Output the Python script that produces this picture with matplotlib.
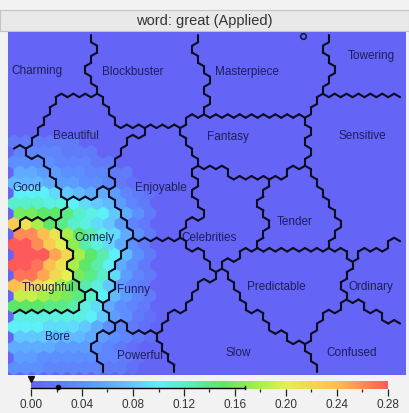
import numpy as np
import matplotlib.pyplot as plt
from matplotlib.path import Path
from matplotlib.collections import PolyCollection, LineCollection
from matplotlib.colors import LinearSegmentedColormap

plt.rcParams['font.family'] = ['Liberation Sans', 'DejaVu Sans']

W, H = 409, 414
MAP_L, MAP_R, MAP_T, MAP_B = 8, 406, 33, 376
NX, NY = 33, 33
VMAX = 0.28
BASE = 0  # hundredths, value of the flat blue cells

TITLE = "word: great (Applied)"

# cell values in hundredths, leading columns of each row (rest = BASE)
HEAT = {
    10: [2, 2, 2, 2, 2, 2],
    11: [3, 3, 3, 3, 2, 2, 2],
    12: [4, 4, 4, 4, 3, 3, 3, 2, 2],
    13: [6, 6, 5, 5, 4, 4, 3, 3, 2, 2],
    14: [7, 7, 7, 6, 5, 5, 4, 4, 3, 2, 1],
    15: [10, 10, 10, 9, 8, 7, 6, 6, 5, 3, 2, 1],
    16: [12, 12, 12, 11, 11, 10, 9, 8, 7, 5, 3, 2],
    17: [16, 16, 15, 15, 14, 12, 11, 10, 8, 6, 4, 2],
    18: [23, 21, 18, 15, 14, 12, 11, 9, 8, 5, 3, 2],
    19: [26, 26, 24, 21, 18, 15, 13, 11, 9, 6, 4, 2],
    20: [28, 28, 26, 23, 20, 17, 13, 11, 9, 6, 4, 2],
    21: [28, 28, 28, 25, 22, 18, 15, 13, 10, 7, 4, 2],
    22: [28, 28, 27, 24, 21, 18, 15, 13, 10, 6, 4, 2],
    23: [27, 27, 25, 22, 20, 16, 14, 12, 9, 5, 3, 2],
    24: [24, 23, 22, 20, 18, 15, 13, 11, 8, 5, 3, 2],
    25: [19, 19, 18, 17, 16, 14, 12, 10, 7, 5, 3, 2],
    26: [15, 15, 15, 14, 14, 13, 11, 9, 6, 4, 3, 2],
    27: [11, 11, 11, 11, 11, 11, 10, 8, 5, 4, 2, 1],
    28: [10, 10, 10, 9, 9, 9, 8, 6, 4, 3, 2, 1],
    29: [8, 8, 8, 7, 7, 7, 6, 5, 4, 3, 2, 1],
    30: [6, 6, 6, 6, 5, 5, 5, 4, 3, 2, 1],
    31: [5, 5, 4, 4, 4, 4, 4, 3, 3, 2, 1],
    32: [4, 4, 4, 3, 3, 3, 3, 3, 2, 2, 1],
}

LABELS = [("Charming", 37, 71), ("Blockbuster", 133, 72),
          ("Masterpiece", 247, 72), ("Towering", 371, 56),
          ("Beautiful", 76, 136), ("Fantasy", 228, 137),
          ("Sensitive", 362, 136), ("Good", 27, 188),
          ("Enjoyable", 161, 188), ("Celebrities", 209, 238),
          ("Tender", 295, 222), ("Comely", 94, 238),
          ("Thoughful", 48, 288), ("Funny", 134, 290),
          ("Predictable", 276, 287), ("Ordinary", 371, 287),
          ("Bore", 57, 337), ("Powerful", 140, 356),
          ("Slow", 238, 353), ("Confused", 352, 353)]

CBAR_TICKS = [0.00, 0.04, 0.08, 0.12, 0.16, 0.20, 0.24, 0.28]
CBAR_RANGE = (0.0, 0.168)
CBAR_MEAN = 0.021

# cluster borders, image pixel coords (y down)
X0, X1, Y0, Y1 = -30, 440, 0, 420
J1, J2, J3, J4, J5 = (97, 95), (27, 148), (200, 112), (305, 116), (323, 96)
J6, J7, J8, J9, J10 = (66, 198), (113, 192), (58, 216), (82, 297), (105, 302)
J11, J12, J13, J14, J15 = (115, 327), (132, 243), (180, 242), (267, 183), (303, 162)
J16, J17, J18, J19, J20 = (333, 247), (257, 247), (352, 265), (352, 300), (305, 348)
J21, J22, J23, J24, J25 = (218, 270), (160, 333), (200, 165), (182, 130), (143, 131)

EDGES = {
    "CB": [(85, Y0), (85, 33), (95, 50), (84, 68), J1],
    "CharBeau": [J1, (68, 97), (47, 111), (30, 135), J2],
    "CharGood": [J2, (8, 155), (X0, 155)],
    "GoodBeau": [J2, (37, 160), (55, 183), J6],
    "BeauCom": [J6, J7],
    "BeauEnj": [J7, (105, 172), (130, 145), J25],
    "BeauBlock": [J1, (117, 125), J25],
    "BlockEnj": [J25, J24],
    "BlockFan": [J24, J3],
    "BlockMas": [(200, Y0), (200, 33), (190, 53), (210, 90), J3],
    "MasFan": [J3, J4],
    "MasTow": [(332, Y0), (332, 33), (323, 55), (333, 75), J5],
    "TowSen": [J5, (409, 98), (X1, 98)],
    "MasSen": [J5, J4],
    "FanSen": [J4, (313, 135), J15],
    "EnjFan": [J24, (197, 150), J23],
    "FanCel": [J23, (220, 173), J14],
    "FanTen": [J14, J15],
    "TenSen": [J15, (313, 175), (330, 197), (343, 222), J16],
    "CelTen": [J14, (258, 200), (265, 223), J17],
    "TenPre": [J17, J16],
    "SenPre": [J16, J18],
    "SenOrd": [J18, (365, 250), (409, 243), (X1, 243)],
    "PreOrd": [J18, (343, 283), J19],
    "OrdCon": [J19, (373, 310), (409, 330), (X1, 330)],
    "PreCon": [J19, (333, 313), (317, 330), J20],
    "SloCon": [J20, (313, 376), (313, Y1)],
    "PreSlo": [J20, (287, 337), (267, 323), (240, 300), J21],
    "CelPre": [J21, (240, 253), J17],
    "CelFun": [J21, J13],
    "EnjCel": [J23, (190, 190), (202, 210), J13],
    "EnjFun": [J13, J12],
    "ComEnj": [J12, (128, 220), J7],
    "FunSlo": [J21, J22],
    "PowSlo": [J22, (167, 350), (182, 376), (182, Y1)],
    "FunPow": [J22, J11],
    "BorPow": [J11, (100, 337), (95, 352), (100, 362), (103, 376), (103, Y1)],
    "FunBor": [J11, J10],
    "ComFun": [J10, (113, 280), (120, 267), J12],
    "ComBor": [J10, (97, 295), J9],
    "ComTho": [J9, (70, 280), (72, 267), (67, 247), J8],
    "GoodCom": [J8, J6],
    "GoodTho": [J8, (48, 212), (38, 220), (8, 232), (X0, 232)],
    "ThoBor": [J9, (82, 307), (8, 312), (X0, 312)],
}

REGIONS = {
    "Charming": [(X0, Y0), "CB", "CharBeau", "CharGood"],
    "Blockbuster": ["BlockMas", "-BlockFan", "-BlockEnj", "-BeauBlock", "-CB"],
    "Masterpiece": ["MasTow", "MasSen", "-MasFan", "-BlockMas"],
    "Towering": [(X1, Y0), "-TowSen", "-MasTow"],
    "Beautiful": ["BeauBlock", "-BeauEnj", "-BeauCom", "-GoodBeau", "-CharBeau"],
    "Fantasy": ["MasFan", "FanSen", "-FanTen", "-FanCel", "-EnjFan", "BlockFan"],
    "Sensitive": ["TowSen", "-SenOrd", "-SenPre", "-TenSen", "-FanSen", "-MasSen"],
    "Good": ["-CharGood", "GoodBeau", "-GoodCom", "GoodTho"],
    "Enjoyable": ["BlockEnj", "EnjFan", "EnjCel", "EnjFun", "ComEnj", "BeauEnj"],
    "Celebrities": ["FanCel", "CelTen", "-CelPre", "CelFun", "-EnjCel"],
    "Tender": ["FanTen", "TenSen", "-TenPre", "-CelTen"],
    "Comely": ["BeauCom", "-ComEnj", "-ComFun", "ComBor", "ComTho", "GoodCom"],
    "Thoughful": ["-GoodTho", "-ComTho", "ThoBor"],
    "Funny": ["-EnjFun", "-CelFun", "FunSlo", "FunPow", "FunBor", "ComFun"],
    "Predictable": ["TenPre", "SenPre", "PreOrd", "PreCon", "PreSlo", "CelPre"],
    "Ordinary": ["SenOrd", "-OrdCon", "-PreOrd"],
    "Bore": ["-ThoBor", "-ComBor", "-FunBor", "BorPow", (X0, Y1)],
    "Powerful": ["-FunPow", "PowSlo", "-BorPow"],
    "Slow": ["-FunSlo", "-PreSlo", "SloCon", "-PowSlo"],
    "Confused": ["-PreCon", "OrdCon", (X1, Y1), "-SloCon"],
}

cmap = LinearSegmentedColormap.from_list("som", [
    (0.00, "#6464f6"), (0.04 / VMAX, "#5c90ff"), (0.08 / VMAX, "#62c8ff"),
    (0.10 / VMAX, "#5ef0f8"), (0.12 / VMAX, "#58f0c8"), (0.15 / VMAX, "#5ae868"),
    (0.18 / VMAX, "#a8f048"), (0.20 / VMAX, "#e4f050"), (0.24 / VMAX, "#ffc050"),
    (1.00, "#ff5a5a")])


def region_path(parts):
    pts = []
    for p in parts:
        if isinstance(p, str):
            seg = EDGES[p.lstrip("-")]
            pts.extend(seg[::-1] if p.startswith("-") else seg)
        else:
            pts.append(p)
    return Path(pts + [pts[0]])


paths = {k: region_path(v) for k, v in REGIONS.items()}
label_xy = {n: (x, y) for n, x, y in LABELS}

w = (MAP_R - MAP_L) / (NX + 0.5)
r = w / np.sqrt(3)
s = 1.5 * r


def center(i, j):
    return (MAP_L + w / 2 + i * w + (w / 2 if j % 2 else 0), MAP_T + r + j * s)


def vert(c, ang):
    a = np.radians(ang)
    return (c[0] + r * np.cos(a), c[1] + r * np.sin(a))


clus = {}
hexes, cols = [], []
for j in range(NY):
    row = HEAT.get(j, [])
    for i in range(NX):
        c = center(i, j)
        lab = None
        for k, p in paths.items():
            if p.contains_point(c):
                lab = k
                break
        if lab is None:
            lab = min(label_xy, key=lambda n: (label_xy[n][0] - c[0]) ** 2
                      + (label_xy[n][1] - c[1]) ** 2)
        clus[i, j] = lab
        v = (row[i] if i < len(row) else BASE) / 100
        hexes.append([vert(c, 30 + 60 * k) for k in range(6)])
        cols.append(cmap(v / VMAX))

segs = []
for j in range(NY):
    odd = j % 2
    for i in range(NX):
        c = center(i, j)
        for (ni, nj), a1, a2 in [((i + 1, j), -30, 30),
                                 ((i + odd, j + 1), 30, 90),
                                 ((i - 1 + odd, j + 1), 90, 150)]:
            if 0 <= ni < NX and 0 <= nj < NY and clus[ni, nj] != clus[i, j]:
                segs.append([vert(c, a1), vert(c, a2)])

fig = plt.figure(figsize=(W / 100, H / 100), dpi=100, facecolor="#f2f2f2")

# title bar
tax = fig.add_axes([0, (H - 32) / H, 1, 21 / H])
tax.set_facecolor("#e9e9e9")
tax.set_xticks([])
tax.set_yticks([])
for sp in tax.spines.values():
    sp.set_color("#c4c4c4")
tax.text(0.5, 0.5, TITLE, ha="center", va="center", fontsize=10.5,
         color="#333333", transform=tax.transAxes)

# map
ax = fig.add_axes([MAP_L / W, (H - MAP_B) / H, (MAP_R - MAP_L) / W,
                   (MAP_B - MAP_T) / H])
ax.set_facecolor(cmap(BASE / 100 / VMAX))
ax.set_xlim(MAP_L, MAP_R)
ax.set_ylim(MAP_B, MAP_T)
ax.set_xticks([])
ax.set_yticks([])
for sp in ax.spines.values():
    sp.set_visible(False)
ax.add_collection(PolyCollection(hexes, facecolors=cols, edgecolors=cols,
                                 linewidths=0.4))
for n, x, y in LABELS:
    ax.text(x, y, n, ha="center", va="center", fontsize=8.5,
            color="#1e1e5a", zorder=2)
ax.add_collection(LineCollection(segs, colors="#0c0c20", linewidths=1.5,
                                 capstyle="round", zorder=3))
ax.plot(303, 37, "o", mfc="none", mec="#1a1a3a", ms=4, mew=1.2, zorder=4)

# colour bar
cax = fig.add_axes([31 / W, (H - 390) / H, (388 - 31) / W, 8 / H])
cax.imshow(np.linspace(0, VMAX, 256)[None, :], aspect="auto", cmap=cmap,
           extent=[0, VMAX, 0, 1])
cax.set_xlim(0, VMAX)
cax.set_ylim(0, 1)
cax.set_yticks([])
cax.set_xticks(CBAR_TICKS)
cax.set_xticklabels([f"{t:.2f}" for t in CBAR_TICKS])
cax.set_xticks([t + 0.02 for t in CBAR_TICKS[:-1]], minor=True)
cax.tick_params(axis="x", which="major", length=5, width=0.9, color="#222222",
                labelsize=8.5, labelcolor="#333333", pad=1.5)
cax.tick_params(axis="x", which="minor", length=2.5, width=0.9, color="#222222")
for sp in cax.spines.values():
    sp.set_visible(False)
cax.plot(CBAR_RANGE, [0.08, 0.08], color="k", lw=1.0, clip_on=False)
cax.plot([CBAR_RANGE[1]] * 2, [0.0, 0.35], color="k", lw=1.0, clip_on=False)
cax.plot(CBAR_MEAN, 0.2, "o", color="k", ms=3, clip_on=False)
cax.plot(0, 1.25, "v", color="#111111", ms=4, clip_on=False)

fig.savefig("out.png", dpi=100, facecolor=fig.get_facecolor())
